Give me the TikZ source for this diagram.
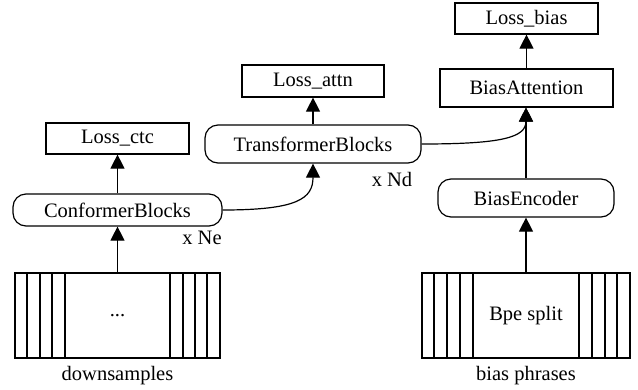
\documentclass[tikz,border=0pt]{standalone}
\usepackage{fontspec}
\setmainfont{Liberation Serif}
\usetikzlibrary{arrows.meta}
\begin{document}
\begin{tikzpicture}[x=1pt,y=-1pt,
  every node/.style={font=\fontsize{20.5}{22}\selectfont, inner sep=0pt},
  lossbox/.style={draw, line width=1.2pt, minimum width=143pt, minimum height=31pt},
  blockbox/.style={draw, line width=1.2pt, rounded corners=13pt},
  seqbox/.style={draw, line width=1.2pt, minimum height=85pt},
  lbl/.style={},
  arr/.style={line width=1.2pt, -{Triangle[length=14pt,width=14pt]}}]
\useasboundingbox (0,0) rectangle (638,389);

% left column
\node[seqbox, minimum width=205pt] (ds) at (117.5,315.5) {...};
\foreach \x in {27,40,52,65,170,183,195,207}
  \draw[line width=1.2pt] (\x,273) -- (\x,358);
\node[lbl] (dsl) at (117.5,376) {downsamples};
\node[blockbox, minimum width=209pt, minimum height=32pt] (cb) at (117.5,210) {ConformerBlocks};
\node[lossbox] (lc) at (117.5,138.5) {Loss\_ctc};
\node[lbl] (ne) at (202,238) {x Ne};

% middle column
\node[blockbox, minimum width=216pt, minimum height=38pt] (tb) at (313,144) {TransformerBlocks};
\node[lossbox, minimum width=142pt, minimum height=32pt] (la) at (313,81) {Loss\_attn};
\node[lbl] (nd) at (392,179) {x Nd};

% right column
\node[seqbox, minimum width=208pt] (bp) at (526,315.5) {Bpe split};
\foreach \x in {434,447,460,473,579,592,605,617}
  \draw[line width=1.2pt] (\x,273) -- (\x,358);
\node[lbl] (bpl) at (526,376) {bias phrases};
\node[blockbox, minimum width=176pt, minimum height=38pt] (be) at (526,198) {BiasEncoder};
\node[draw, line width=1.2pt, minimum width=173pt, minimum height=38pt] (ba) at (526.5,88) {BiasAttention};
\node[lossbox] (lb) at (526.5,18.5) {Loss\_bias};

% connectors
\draw[arr] (ds.north) -- (cb.south);
\draw[arr] (cb.north) -- (lc.south);
\draw[arr] (tb.north) -- (la.south);
\draw[arr] (bp.north) -- (be.south);
\draw[arr] (be.north) -- (be.north |- ba.south);
\draw[arr] (ba.north) -- (ba.north |- lb.south);
\draw[arr] (cb.east) .. controls +(75,0) and +(0,35) .. (tb.south);
\draw[arr] (tb.east) .. controls +(80,0) and +(0,30) .. (be.north |- ba.south);
\end{tikzpicture}
\end{document}
